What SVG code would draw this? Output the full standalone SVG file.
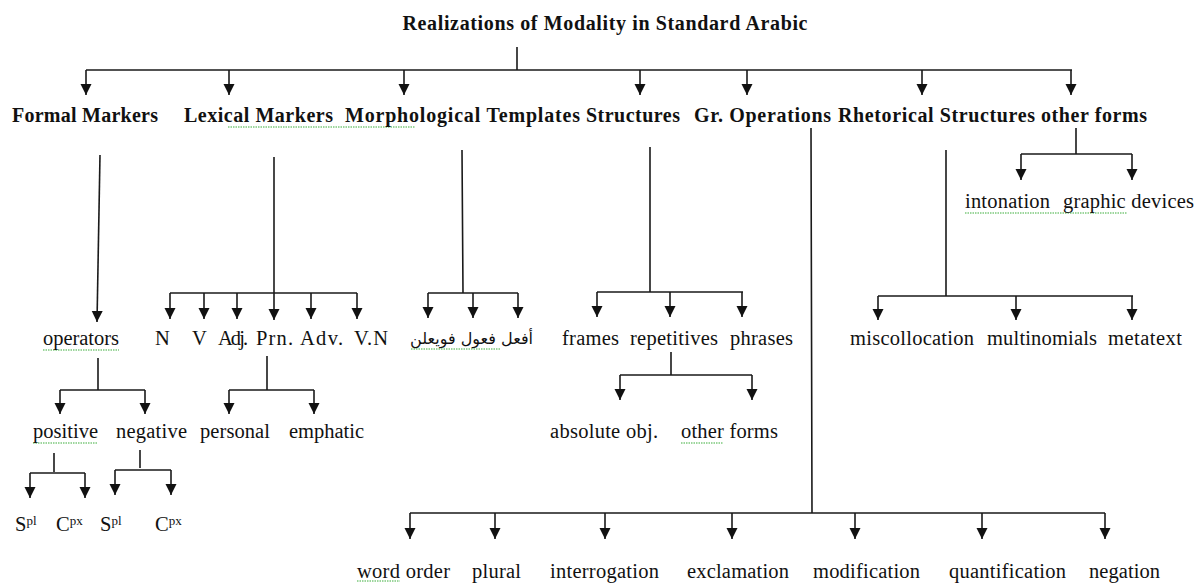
<svg xmlns="http://www.w3.org/2000/svg" width="1195" height="583" viewBox="0 0 1195 583">
<defs>
<marker id="ah" markerUnits="userSpaceOnUse" markerWidth="12" markerHeight="12" refX="11" refY="6" orient="auto">
<path d="M0,0.5 L11,6 L0,11.5 z" fill="#111"/>
</marker>
<style>
.t{font-family:"Liberation Serif","Times New Roman",serif;font-size:20.5px;fill:#111}
.h{font-family:"Liberation Serif","Times New Roman",serif;font-size:20px;font-weight:bold;fill:#111}
.ar{font-family:"DejaVu Sans","Noto Sans",sans-serif;font-size:16px;fill:#111}
.c{fill:none;stroke:#1a1a1a;stroke-width:1.6}
.a{fill:none;stroke:#1a1a1a;stroke-width:1.6;marker-end:url(#ah)}
.w{fill:none;stroke:#3cae3c;stroke-width:1.2;stroke-dasharray:1.5 1}
.sup{font-size:13px}
</style>
</defs>
<rect width="1195" height="583" fill="#fff"/>

<g id="connectors">
<path class="c" d="M517,47 V70 M86,70 H1072"/>
<path class="a" d="M86,70 V95"/>
<path class="a" d="M229,70 V95"/>
<path class="a" d="M404,70 V95"/>
<path class="a" d="M640,70 V95"/>
<path class="a" d="M747,70 V95"/>
<path class="a" d="M922,70 V95"/>
<path class="a" d="M1071,70 V95"/>
<path class="a" d="M100,155 L97,322"/>
<path class="c" d="M98,358 V390 M60,390 H145"/>
<path class="a" d="M60,390 V414"/>
<path class="a" d="M145,390 V414"/>
<path class="c" d="M54,453 V472 M30,473 H85"/>
<path class="a" d="M30,473 V498"/>
<path class="a" d="M85,473 V498"/>
<path class="c" d="M140,450 V468 M115,470 H171"/>
<path class="a" d="M115,470 V495"/>
<path class="a" d="M171,470 V495"/>
<path class="a" d="M274,157 V320"/>
<path class="c" d="M170,293 H357"/>
<path class="a" d="M170,293 V319"/>
<path class="a" d="M204,293 V319"/>
<path class="a" d="M237,293 V319"/>
<path class="a" d="M311,293 V319"/>
<path class="a" d="M357,293 V319"/>
<path class="c" d="M267,356 V390 M229,390 H314"/>
<path class="a" d="M229,390 V414"/>
<path class="a" d="M314,390 V414"/>
<path class="c" d="M462,150 L463,293 M428,293 H518"/>
<path class="a" d="M428,293 V318"/>
<path class="a" d="M473,293 V318"/>
<path class="a" d="M518,293 V318"/>
<path class="c" d="M650,147 V292 M597,292 H743"/>
<path class="a" d="M597,292 V317"/>
<path class="a" d="M670,292 V317"/>
<path class="a" d="M742,292 V317"/>
<path class="c" d="M671,352 V375 M620,375 H752"/>
<path class="a" d="M620,375 V400"/>
<path class="a" d="M752,375 V400"/>
<path class="c" d="M811,128 L812,513 M410,513 H1105"/>
<path class="a" d="M410,513 V539"/>
<path class="a" d="M495,513 V539"/>
<path class="a" d="M605,513 V539"/>
<path class="a" d="M732,513 V539"/>
<path class="a" d="M855,513 V539"/>
<path class="a" d="M982,513 V539"/>
<path class="a" d="M1105,513 V539"/>
<path class="c" d="M946,150 V296 M878,296 H1133"/>
<path class="a" d="M878,296 V320"/>
<path class="a" d="M1016,296 V320"/>
<path class="a" d="M1132,296 V320"/>
<path class="c" d="M1076,128 V154 M1021,154 H1132"/>
<path class="a" d="M1021,154 V180"/>
<path class="a" d="M1132,154 V180"/>
</g>

<g id="spellcheck">
<path class="w" d="M43,350 H119"/>
<path class="w" d="M228,127 H415"/>
<path class="w" d="M411,349 H500"/>
<path class="w" d="M33,443 H98"/>
<path class="w" d="M681,443 H723"/>
<path class="w" d="M965,213 H1127"/>
<path class="w" d="M357,581 H400"/>
</g>

<g id="title"><text class="h" x="605" y="30" text-anchor="middle" textLength="405">Realizations of Modality in Standard Arabic</text></g>

<g id="formal-markers"><text class="h" x="12" y="122" textLength="146">Formal Markers</text></g>
<g id="lexical-markers"><text class="h" x="184" y="122" textLength="149">Lexical Markers</text></g>
<g id="morphological-templates"><text class="h" x="345" y="122" textLength="235">Morphological  Templates</text></g>
<g id="structures"><text class="h" x="586" y="122" textLength="94">Structures</text></g>
<g id="gr-operations"><text class="h" x="694" y="122" textLength="137">Gr. Operations</text></g>
<g id="rhetorical-structures"><text class="h" x="838" y="122" textLength="197">Rhetorical Structures</text></g>
<g id="other-forms"><text class="h" x="1041" y="122" textLength="106">other forms</text></g>

<g id="operators"><text class="t" x="43" y="345" textLength="76">operators</text></g>
<g id="positive"><text class="t" x="33" y="438" textLength="65">positive</text></g>
<g id="negative"><text class="t" x="116" y="438" textLength="71">negative</text></g>
<g id="pos-spl"><text class="t" x="15" y="531">S<tspan class="sup" dy="-6">pl</tspan></text></g>
<g id="pos-cpx"><text class="t" x="56" y="531">C<tspan class="sup" dy="-6">px</tspan></text></g>
<g id="neg-spl"><text class="t" x="100" y="531">S<tspan class="sup" dy="-6">pl</tspan></text></g>
<g id="neg-cpx"><text class="t" x="155" y="531">C<tspan class="sup" dy="-6">px</tspan></text></g>

<g id="n"><text class="t" x="155" y="345">N</text></g>
<g id="v"><text class="t" x="192" y="345">V</text></g>
<g id="adj"><text class="t" x="218" y="345" textLength="30">Adj.</text></g>
<g id="prn"><text class="t" x="256" y="345" textLength="37">Prn.</text></g>
<g id="adv"><text class="t" x="300" y="345" textLength="43">Adv.</text></g>
<g id="vn"><text class="t" x="354" y="345" textLength="34">V.N</text></g>
<g id="personal"><text class="t" x="200" y="438" textLength="70">personal</text></g>
<g id="emphatic"><text class="t" x="289" y="438" textLength="75">emphatic</text></g>

<g id="templates"><text class="ar" x="533" y="344" direction="rtl" text-anchor="start">أفعل فعول فويعلن</text></g>

<g id="frames"><text class="t" x="562" y="345" textLength="57">frames</text></g>
<g id="repetitives"><text class="t" x="630" y="345" textLength="88">repetitives</text></g>
<g id="phrases"><text class="t" x="730" y="345" textLength="63">phrases</text></g>
<g id="absolute-obj"><text class="t" x="550" y="438" textLength="108">absolute obj.</text></g>
<g id="rep-other-forms"><text class="t" x="681" y="438" textLength="97">other forms</text></g>

<g id="word-order"><text class="t" x="357" y="578" textLength="93">word order</text></g>
<g id="plural"><text class="t" x="472" y="578" textLength="49">plural</text></g>
<g id="interrogation"><text class="t" x="550" y="578" textLength="109">interrogation</text></g>
<g id="exclamation"><text class="t" x="687" y="578" textLength="102">exclamation</text></g>
<g id="modification"><text class="t" x="813" y="578" textLength="107">modification</text></g>
<g id="quantification"><text class="t" x="949" y="578" textLength="117">quantification</text></g>
<g id="negation"><text class="t" x="1089" y="578" textLength="71">negation</text></g>

<g id="miscollocation"><text class="t" x="850" y="345" textLength="124">miscollocation</text></g>
<g id="multinomials"><text class="t" x="987" y="345" textLength="110">multinomials</text></g>
<g id="metatext"><text class="t" x="1108" y="345" textLength="74">metatext</text></g>

<g id="intonation"><text class="t" x="965" y="208" textLength="85">intonation</text></g>
<g id="graphic-devices"><text class="t" x="1063" y="208" textLength="131">graphic devices</text></g>
</svg>
